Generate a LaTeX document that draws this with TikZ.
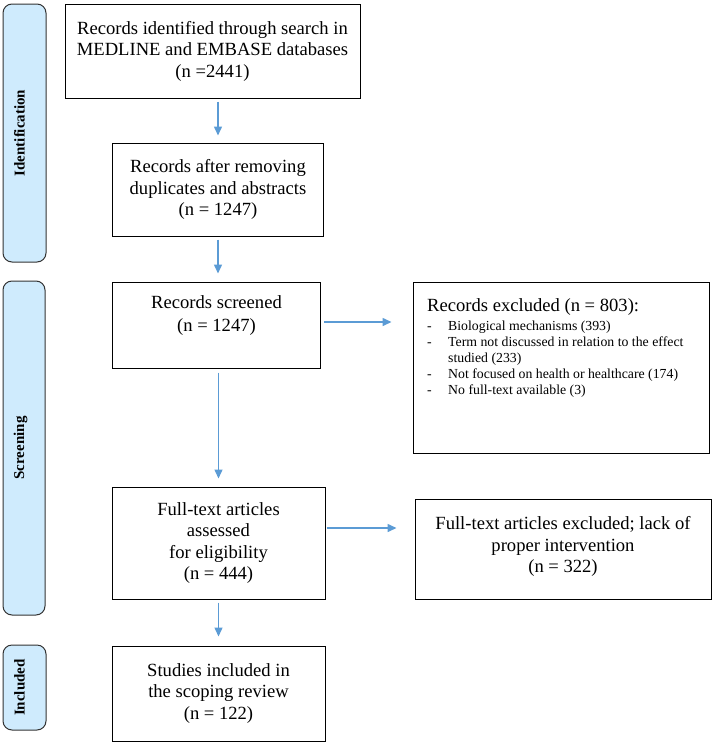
\documentclass[tikz,border=0pt]{standalone}
\usepackage{fontspec}
\setmainfont{Liberation Serif}
\usepackage{xcolor}
\usepackage{tikz}
\usetikzlibrary{arrows.meta}
\definecolor{phasefill}{HTML}{CFEBFD}
\definecolor{flowblue}{HTML}{5B9BD5}

\begin{document}
\begin{tikzpicture}[x=1pt,y=-1pt,
    box/.style={draw=black,line width=1pt,align=center,inner sep=0pt,
      font=\fontsize{18.6}{21.5}\selectfont},
    phase/.style={draw=black!80,fill=phasefill,line width=1pt,rounded corners=9pt,
      rotate=90,inner sep=0pt,text height=11pt,text depth=11pt,
      font=\fontsize{15}{18}\selectfont\bfseries},
    flow/.style={draw=flowblue,line width=1.5pt,-{Triangle[length=9pt,width=8pt]}}]
  \useasboundingbox (0,0) rectangle (712,742);

  % phases
  \node[phase,minimum width=258,minimum height=43] (identph) at (24.5,133) {Identification};
  \node[phase,minimum width=334,minimum height=42] (screenph) at (24,448) {Screening};
  \node[phase,minimum width=85,minimum height=43] (inclph) at (24.5,687.5) {Included};

  % main column
  \node[box,minimum width=295,minimum height=94] (found) at (212.5,51)
    {Records identified through search in\\MEDLINE and EMBASE databases\\(n =2441)};
  \node[box,minimum width=211,minimum height=93] (nodup) at (218,189.5)
    {Records after removing\\duplicates and abstracts\\(n = 1247)};
  \node[box,minimum width=208,minimum height=86,text depth=22pt,
    font=\fontsize{18.6}{23}\selectfont] (screened) at (216.5,325)
    {Records screened\\(n = 1247)};
  \node[box,minimum width=213,minimum height=112] (fulltext) at (218.5,543)
    {Full-text articles\\assessed\\for eligibility\\(n = 444)};
  \node[box,minimum width=213,minimum height=95] (studies) at (218.5,693.5)
    {Studies included in\\the scoping review\\(n = 122)};

  % exclusions
  \node[box,minimum width=296,minimum height=171] (excl) at (561,367.5) {};
  \node[anchor=north west,inner sep=0pt,font=\fontsize{13.8}{16.1}\selectfont] (excllist) at (427,298)
    {\begin{tabular}{@{}p{21pt}@{}l@{}}
      \multicolumn{2}{@{}l@{}}{\fontsize{18.6}{21}\selectfont Records excluded (n = 803):}\\[3pt]
      -&Biological mechanisms (393)\\
      -&Term not discussed in relation to the effect\\
       &studied (233)\\
      -&Not focused on health or healthcare (174)\\
      -&No full-text available (3)
    \end{tabular}};
  \node[box,minimum width=296,minimum height=100,text depth=9pt] (exclfull) at (563,549)
    {Full-text articles excluded; lack of\\proper intervention\\(n = 322)};

  % arrows
  \draw[flow,shorten <=3pt,shorten >=7pt] (found.south -| nodup.north) -- (nodup.north);
  \draw[flow,shorten <=3pt,shorten >=8pt] (nodup.south) -- (nodup.south |- screened.north);
  \draw[flow,shorten <=4pt,shorten >=8pt] (screened.south -| fulltext.north) -- (fulltext.north);
  \draw[flow,shorten <=3pt,shorten >=9pt] (fulltext.south) -- (studies.north);
  \draw[flow,shorten <=3pt,shorten >=21pt] ([yshift=3pt]screened.east) -- ([yshift=3pt]screened.east -| excl.west);
  \draw[flow,shorten <=1pt,shorten >=18pt] ([yshift=15pt]fulltext.east) -- ([yshift=15pt]fulltext.east -| exclfull.west);
\end{tikzpicture}
\end{document}
